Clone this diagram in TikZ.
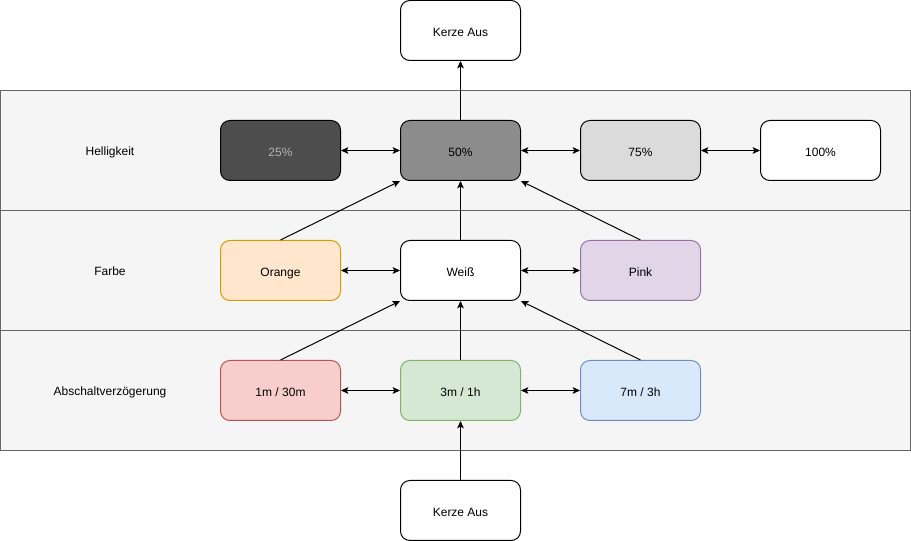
\documentclass[tikz,border=0pt]{standalone}
\usepackage{fontspec}
\setmainfont{Liberation Sans}
\usetikzlibrary{arrows.meta}

\definecolor{lanefill}{HTML}{F5F5F5}
\definecolor{laneline}{HTML}{666666}
\definecolor{darkfill}{HTML}{4D4D4D}
\definecolor{darktext}{HTML}{B3B3B3}
\definecolor{midfill}{HTML}{8C8C8C}
\definecolor{lightfill}{HTML}{DBDBDB}
\definecolor{orangefill}{HTML}{FFE6CC}
\definecolor{orangeline}{HTML}{D79B00}
\definecolor{pinkfill}{HTML}{E1D5E7}
\definecolor{pinkline}{HTML}{9673A6}
\definecolor{redfill}{HTML}{F8CECC}
\definecolor{redline}{HTML}{B85450}
\definecolor{greenfill}{HTML}{D5E8D4}
\definecolor{greenline}{HTML}{82B366}
\definecolor{bluefill}{HTML}{DAE8FC}
\definecolor{blueline}{HTML}{6C8EBF}

\begin{document}
\begin{tikzpicture}
  [
    x = 0.75pt, y = -0.75pt,
    every node/.style = {font = \fontsize{9}{11}\selectfont, text height = 10pt, text depth = 1.4pt},
    box/.style = {draw, fill = white, rounded corners = 7pt, line width = 0.75pt,
                  minimum width = 90pt, minimum height = 45pt},
    lane/.style = {draw = laneline, fill = lanefill, line width = 0.75pt},
    link/.style = {-{Stealth[length = 5.5pt, width = 5pt, inset = 1.2pt]}, line width = 0.75pt},
    both/.style = {{Stealth[length = 5.5pt, width = 5pt, inset = 1.2pt]}-{Stealth[length = 5.5pt, width = 5pt, inset = 1.2pt]}, line width = 0.75pt}
  ]
  \useasboundingbox (0,0) rectangle (911,541);

  % lanes
  \draw[lane] (0.5,90.5) rectangle (910.5,210.5);
  \draw[lane] (0.5,210.5) rectangle (910.5,330.5);
  \draw[lane] (0.5,330.5) rectangle (910.5,450.5);
  \node (Helligkeit) at (110,150) {Helligkeit};
  \node (Farbe) at (110,270) {Farbe};
  \node (Abschalt) at (110,390) {Abschaltverzögerung};

  % boxes
  \node[box] (Top) at (460.5,30.5) {Kerze Aus};
  \node[box, fill = darkfill, text = darktext] (P25) at (280.5,150.5) {25\%};
  \node[box, fill = midfill] (P50) at (460.5,150.5) {50\%};
  \node[box, fill = lightfill] (P75) at (640.5,150.5) {75\%};
  \node[box] (P100) at (820.5,150.5) {100\%};
  \node[box, fill = orangefill, draw = orangeline] (Orange) at (280.5,270.5) {Orange};
  \node[box] (Weiss) at (460.5,270.5) {Weiß};
  \node[box, fill = pinkfill, draw = pinkline] (Pink) at (640.5,270.5) {Pink};
  \node[box, fill = redfill, draw = redline] (T1) at (280.5,390.5) {1m / 30m};
  \node[box, fill = greenfill, draw = greenline] (T3) at (460.5,390.5) {3m / 1h};
  \node[box, fill = bluefill, draw = blueline] (T7) at (640.5,390.5) {7m / 3h};
  \node[box] (Bottom) at (460.5,510.5) {Kerze Aus};

  % connectors
  \draw[link] (Bottom) -- (T3);
  \draw[link] (T3) -- (Weiss);
  \draw[link] (T1.north) -- (Weiss.south west);
  \draw[link] (T7.north) -- (Weiss.south east);
  \draw[link] (Weiss) -- (P50);
  \draw[link] (Orange.north) -- (P50.south west);
  \draw[link] (Pink.north) -- (P50.south east);
  \draw[link] (P50) -- (Top);
  \draw[both] (P25) -- (P50);
  \draw[both] (P50) -- (P75);
  \draw[both] (P75) -- (P100);
  \draw[both] (Orange) -- (Weiss);
  \draw[both] (Weiss) -- (Pink);
  \draw[both] (T1) -- (T3);
  \draw[both] (T3) -- (T7);
\end{tikzpicture}
\end{document}
